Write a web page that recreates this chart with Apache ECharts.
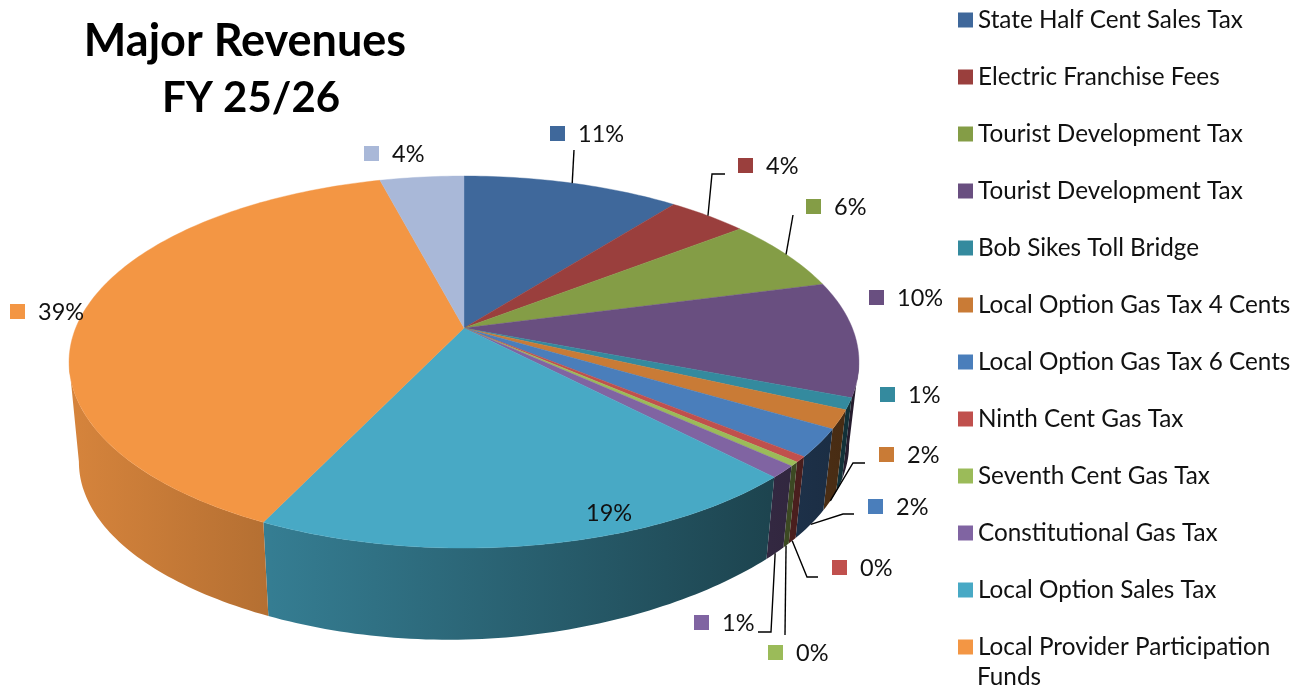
<!DOCTYPE html>
<html>
<head>
<meta charset="utf-8">
<style>html,body{margin:0;padding:0;background:#fff}#c{width:1301px;height:692px}</style>
<script src="https://cdn.jsdelivr.net/npm/echarts@6/dist/echarts.min.js"></script>
</head>
<body>
<div id="c"></div>
<script>
// ---- data ----
const categories = ['State Half Cent Sales Tax','Electric Franchise Fees','Tourist Development Tax','Tourist Development Tax','Bob Sikes Toll Bridge','Local Option Gas Tax 4 Cents','Local Option Gas Tax 6 Cents','Ninth Cent Gas Tax','Seventh Cent Gas Tax','Constitutional Gas Tax','Local Option Sales Tax','Local Provider Participation Funds','Other Revenues'];
const shares = [10.6,3.9,6.4,10.0,1.0,1.6,2.4,0.49,0.36,1.05,19.3,38.8,4.1];
const percentLabels = ['11%','4%','6%','10%','1%','2%','2%','0%','0%','1%','19%','39%','4%'];
const colors = ['#3F689B','#9A3F3D','#849D46','#694F80','#348A9E','#C97B36','#4A7EBB','#C0504D','#9BBB59','#8064A2','#48A9C5','#F39644','#A9B8D8'];
const titleLines = ['Major Revenues','FY 25/26'];

// ---- layout of the data labels: marker x, centre y, optional leader elbow points, leader end on top (0) or lower (1) rim ----
const labelLayout = [
  {mx:550,my:133,lead:[[574,150]],rim:0},
  {mx:738,my:165,lead:[[725,174],[712,174]],rim:0},
  {mx:806,my:206,lead:[[793,215]],rim:0},
  {mx:869,my:297},
  {mx:880,my:394},
  {mx:879,my:454,lead:[[865,463],[853,463]],rim:1},
  {mx:868,my:506,lead:[[854,514],[843,514]],rim:1},
  {mx:832,my:567,lead:[[818,577],[807,577]],rim:1},
  {mx:768,my:652,lead:[[785,635]],rim:1},
  {mx:694,my:622,lead:[[758,632],[771,632]],rim:1},
  {mx:558,my:512},
  {mx:10,my:311},
  {mx:364,my:153}
];

// ---- 3D projection of the pie disc ----
const CX=464, CY=328, R=388.3, S=179.8, K=0.183;
function project(deg,z){
  const a=deg*Math.PI/180, X=Math.sin(a), Y=Math.cos(a), w=1+K*Y;
  let x=CX+R*X/w, y=CY-S*Y/w;
  if(z){
    const x0=x;
    x=CX+(x-CX)*0.975;
    y=CY+(y-CY)*0.975+92-0.022*(x0-CX)+5*Math.pow(Math.max(0,-Y),8);
  }
  return [x,y];
}
function shadeColor(hex,f){
  const n=parseInt(hex.slice(1),16);
  return 'rgb('+[(n>>16)&255,(n>>8)&255,n&255].map(v=>Math.round(v*f)).join(',')+')';
}
// the wall darkens from left to right across the whole pie
const SHADE_X0=70, SHADE_X1=860;
const shadeStops=[[70,.88],[270,.74],[770,.40],[860,.35]];
function wallFill(color){
  return {type:'linear',x:SHADE_X0,y:0,x2:SHADE_X1,y2:0,global:true,
    colorStops:shadeStops.map(s=>({offset:(s[0]-SHADE_X0)/(SHADE_X1-SHADE_X0),color:shadeColor(color,s[1])}))};
}
const total=shares.reduce((a,b)=>a+b,0);
const starts=[]; shares.reduce((acc,v,i)=>{starts[i]=acc;return acc+v;},0);

function renderSlice(idx){
  return function(params,api){
    const value=api.value(0);
    const a0=starts[idx]/total*360, a1=a0+value/total*360;
    const color=colors[idx], kids=[];
    // side wall: only the part between the two silhouette angles of the disc
    const w0=Math.max(a0,100.5), w1=Math.min(a1,259.5);
    if(w1>w0){
      const top=[],bottom=[];
      const n=Math.max(2,Math.ceil(w1-w0));
      for(let i=0;i<=n;i++){
        const a=w0+(w1-w0)*i/n;
        top.push(project(a,0));
        bottom.unshift(project(a,1));
      }
      kids.push({type:'polygon',shape:{points:top.concat(bottom)},style:{fill:wallFill(color)},z2:10,silent:true});
    }
    // top face
    const pts=[[CX,CY]];
    const n=Math.max(2,Math.ceil((a1-a0)));
    for(let i=0;i<=n;i++)pts.push(project(a0+(a1-a0)*i/n,0));
    kids.push({type:'polygon',shape:{points:pts},style:{fill:color,stroke:color,lineWidth:0.4},z2:100});
    // data label
    const L=labelLayout[idx];
    kids.push({type:'rect',shape:{x:L.mx,y:L.my-7,width:15,height:15},style:{fill:color},z2:200,silent:true});
    kids.push({type:'text',x:L.mx+28,y:L.my+1,style:{text:percentLabels[idx],fill:'#111',font:'23.5px Lato',textAlign:'left',textVerticalAlign:'middle'},z2:200,silent:true});
    if(L.lead){
      const end=project((a0+a1)/2,L.rim);
      kids.push({type:'polyline',shape:{points:L.lead.concat([end])},style:{stroke:'#000',lineWidth:1.4,fill:'none'},z2:200,silent:true});
    }
    return {type:'group',children:kids};
  };
}

const LONG_NAME='Local Provider Participation Funds';
const legendData=categories.slice(0,12).map((c,i)=>i+'|'+c);
const chart=echarts.init(document.getElementById('c'),null,{renderer:'canvas'});
chart.setOption({
  animation:false,
  backgroundColor:'#fff',
  title:[
    {text:titleLines[0],left:240,top:14,textAlign:'center',textStyle:{fontFamily:'Lato',fontWeight:'bold',fontSize:45,color:'#000'}},
    {text:titleLines[1],left:246,top:72,textAlign:'center',textStyle:{fontFamily:'Lato',fontWeight:'bold',fontSize:42,color:'#000'}}
  ],
  legend:{
    orient:'vertical',left:953,top:-1,height:900,itemWidth:15,itemHeight:15,itemGap:25,icon:'rect',
    data:legendData,selectedMode:false,
    textStyle:{fontFamily:'Lato',fontSize:24.3,color:'#111',lineHeight:32},
    formatter:function(n){
      const t=n.split('|')[1];
      return t===LONG_NAME?'Local Provider Participation':t;
    }
  },
  graphic:[{type:'text',left:977,top:665,silent:true,style:{text:'Funds',fill:'#111',font:'24.3px Lato'}}],
  series:categories.map((c,i)=>({
    type:'custom',
    name:i+'|'+c,
    coordinateSystem:'none',
    silent:true,
    itemStyle:{color:colors[i]},
    renderItem:renderSlice(i),
    data:[[shares[i]]]
  }))
});
</script>
</body>
</html>
